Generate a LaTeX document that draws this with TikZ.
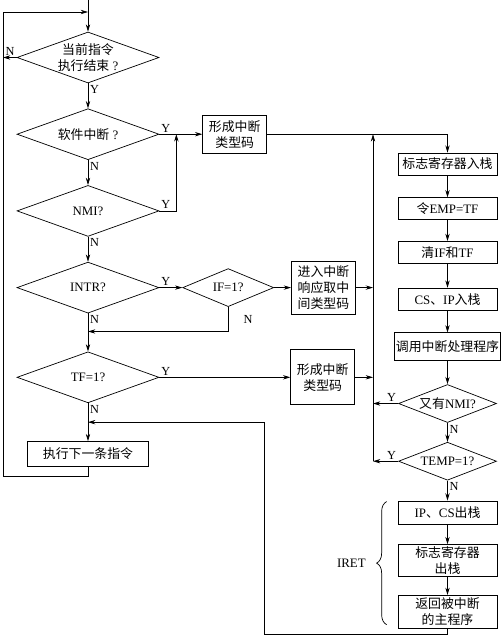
\documentclass[tikz,border=0pt]{standalone}
\usepackage{fontspec}
\setmainfont{Liberation Serif}
\newfontfamily\cjk{Noto Sans CJK SC}
\usetikzlibrary{arrows.meta,shapes.geometric,positioning,calc,decorations.pathreplacing}
\tikzset{
	decision/.style={
		diamond,
		draw,
		line width=0.6pt,
		aspect=2.8,
		inner sep=0pt,
		minimum width=42.6mm,
		minimum height=15.3mm,
		align=center,
	},
	smalldecision/.style={
		decision,
		aspect=2.5,
		minimum width=29.4mm,
		minimum height=11.4mm,
	},
	process/.style={
		rectangle,
		draw,
		line width=0.6pt,
		inner sep=1pt,
		minimum width=29.7mm,
		minimum height=6.6mm,
		align=center,
	},
	typebox/.style={
		process,
		minimum width=19.2mm,
	},
	zh/.style={
		font=\fontsize{11}{13.7}\selectfont\cjk,
	},
	link/.style={
		-{Stealth[length=2.2mm,width=1.3mm]},
		line width=0.6pt,
	},
	plain/.style={
		line width=0.6pt,
	},
	lab/.style={
		inner sep=1.5pt,
		font=\fontsize{10.5}{12}\selectfont,
	},
}

\begin{document}
\begin{tikzpicture}[node distance=7.5mm and 12.9mm,font=\fontsize{11}{13.7}\selectfont]

\useasboundingbox (0,0) rectangle (150mm,-190.5mm);
\coordinate (o) at (0,0);
\coordinate (mx) at (111.9mm,0);

% left column
\node[decision] (cur) at (26.4mm,-17.25mm) {{\cjk 当前指令}\\{\cjk 执行结束} ?};
\node[decision] (soft) [below=of cur] {{\cjk 软件中断} ?};
\node[decision] (nmi) [below=of soft] {NMI?};
\node[decision] (intr) [below=of nmi] {INTR?};
\node[decision] (tf) [below=11.4mm of intr] {TF=1?};
\node[process,zh,minimum width=36.3mm,minimum height=7.5mm] (next) [below=11.4mm of tf] {执行下一条指令};

% middle
\node[typebox,zh,minimum height=11.4mm] (form1) [right=of soft] {形成中断\\类型码};
\node[decision,aspect=2.4,minimum width=27.3mm,minimum height=11.4mm] (iff) [right=6.9mm of intr] {IF=1?};
\node[typebox,zh,minimum height=15.9mm] (enter) [right=5.1mm of iff] {进入中断\\响应取中\\间类型码};
\node[typebox,zh,minimum height=16.5mm] (form2) [right=39.3mm of tf] {形成中断\\类型码};

% right column
\node[process,zh] (r1) at (134.25mm,-49.2mm) {标志寄存器入栈};
\node[process] (r2) [below=6.6mm of r1] {{\cjk 令}EMP=TF};
\node[process] (r3) [below=6.3mm of r2] {{\cjk 清}IF{\cjk 和}TF};
\node[process] (r4) [below=7.2mm of r3] {CS{\cjk 、}IP{\cjk 入栈}};
\node[process,zh,minimum width=31.5mm,minimum height=8.4mm] (r5) [below=6.6mm of r4] {调用中断处理程序};
\node[smalldecision] (nmi2) [below=6.9mm of r5] {{\cjk 又有}NMI?};
\node[smalldecision] (temp) [below=5.7mm of nmi2] {TEMP=1?};
\node[process,minimum height=6.9mm] (r6) [below=6mm of temp] {IP{\cjk 、}CS{\cjk 出栈}};
\node[process,zh,minimum height=9.6mm] (r7) [below=6mm of r6] {标志寄存器\\出栈};
\node[process,zh,minimum height=9.9mm] (r8) [below=5.4mm of r7] {返回被中断\\的主程序};

% helper points
\coordinate (lt) at (0.9mm,-3.6mm);
\coordinate (lb) at (0.9mm,-142.8mm);
\coordinate (jA) at ($(soft.east)+(5.1mm,0)$);
\coordinate (jI) at ($(intr.south)+(0,-5.4mm)$);
\coordinate (jR) at ($(tf.south)!0.5!(next.north)$);
\coordinate (rb) at (79.2mm,-190.2mm);

% main flow
\draw[link] (cur.north |- o) -- (cur.north);
\draw[link] (next.south) |- (lb) -- (lt) -- (lt -| cur.north);
\draw[link] (cur.west) node[lab,above left]{N} -- (cur.west -| lb);
\draw[link] (cur.south) node[lab,below right]{Y} -- (soft.north);
\draw[link] (soft.south) node[lab,below right]{N} -- (nmi.north);
\draw[link] (nmi.south) node[lab,below right]{N} -- (intr.north);
\draw[link] (intr.south) node[lab,below right]{N} -- (tf.north);
\draw[link] (tf.south) node[lab,below right]{N} -- (next.north);

% interrupt requests
\draw[link] (soft.east) node[lab,above right]{Y} -- (form1.west);
\draw[link] (nmi.east) node[lab,above right]{Y} -| (jA);
\draw[link] (intr.east) node[lab,above right]{Y} -- (iff.west);
\draw[link] (iff.east) -- (enter.west);
\draw[link] (iff.south) |- node[lab,pos=0.25,right=4mm]{N} (jI);
\draw[link] (tf.east) node[lab,above right]{Y} -- (form2.west);

% collect
\draw[link] (form1.east) -| (r1.north);
\draw[link] (enter.east) -- (enter.east -| mx);
\draw[link] (form2.east) -- (form2.east -| mx);
\draw[link] (nmi2.west) node[lab,above left]{Y} -- (nmi2.west -| mx);
\draw[link] (temp.west) node[lab,above left]{Y} -- (temp.west -| mx);
\draw[link] (temp.west -| mx) -- (soft.east -| mx);

% service routine
\draw[link] (r1) -- (r2);
\draw[link] (r2) -- (r3);
\draw[link] (r3) -- (r4);
\draw[link] (r4) -- (r5);
\draw[link] (r5) -- (nmi2);
\draw[link] (nmi2.south) node[lab,below right]{N} -- (temp.north);
\draw[link] (temp.south) node[lab,below right]{N} -- (r6.north);
\draw[link] (r6) -- (r7);
\draw[link] (r7) -- (r8);
\draw[link] (r8.south) |- (rb) |- (jR);

% IRET
\draw[plain,decorate,decoration={brace,amplitude=3mm}]
  ($(r8.south west)+(-3.3mm,1.2mm)$) -- ($(r6.north west)+(-3.3mm,-0.3mm)$)
  node[midway,left=5mm] (iret) {IRET};

\end{tikzpicture}
\end{document}
